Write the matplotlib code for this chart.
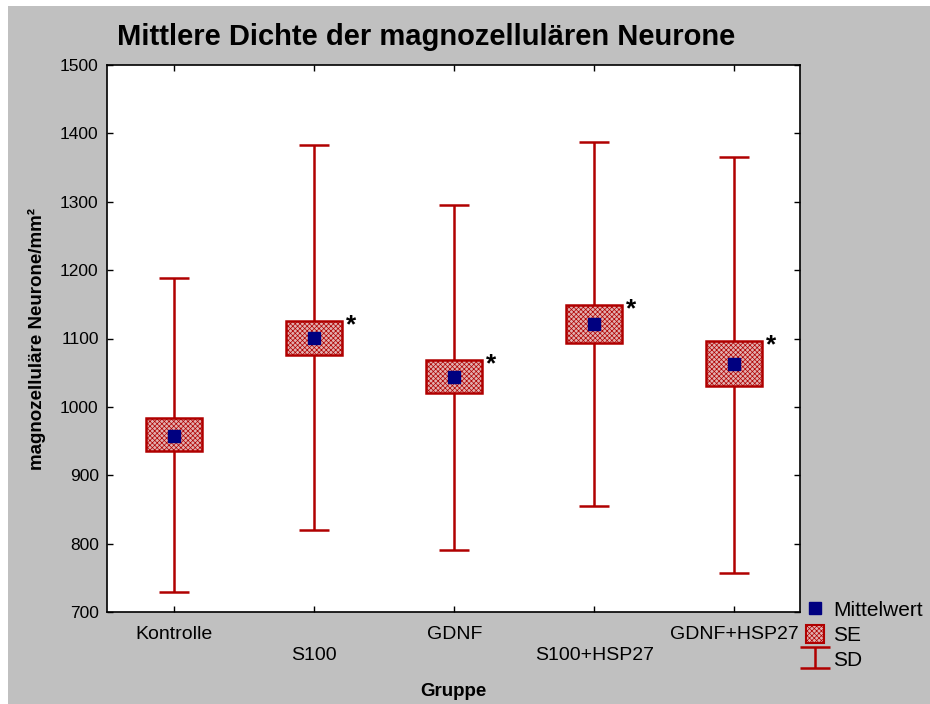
import matplotlib
matplotlib.use("Agg")
import matplotlib.pyplot as plt
import matplotlib.patches as mpatches
from matplotlib.lines import Line2D
import numpy as np

plt.rcParams["font.family"] = ["Liberation Sans", "DejaVu Sans"]
plt.rcParams["hatch.color"] = "#cc7474"
plt.rcParams["hatch.linewidth"] = 0.5

groups = ["Kontrolle", "S100", "GDNF", "S100+HSP27", "GDNF+HSP27"]
means = [958, 1101, 1043, 1121, 1062]
se_low = [935, 1076, 1020, 1093, 1030]
se_high = [983, 1126, 1068, 1149, 1096]
sd_low = [729, 820, 790, 855, 757]
sd_high = [1189, 1383, 1295, 1387, 1365]
significant = [False, True, True, True, True]

red = "#b00000"
navy = "#000080"
box_face = "#e2b0b0"

fig = plt.figure(figsize=(9.3, 7.04), dpi=100, facecolor="white")
fig.patches.append(mpatches.Rectangle((8 / 930, 0), 1, 1 - 6 / 704,
                                      transform=fig.transFigure,
                                      facecolor="#c0c0c0", edgecolor="none", zorder=-10))

ax = fig.add_axes([107 / 930, 92 / 704, 693 / 930, 547 / 704])
ax.set_facecolor("white")

x = np.arange(len(groups))
means = np.array(means)
sd_low = np.array(sd_low)
sd_high = np.array(sd_high)

sd = ax.errorbar(x, means, yerr=[means - sd_low, sd_high - means], fmt="none",
                 ecolor=red, elinewidth=1.8, capsize=10.5, capthick=1.8, zorder=2)

box_w = 0.4
for i in range(len(groups)):
    r = mpatches.Rectangle((x[i] - box_w / 2, se_low[i]), box_w, se_high[i] - se_low[i],
                           facecolor=box_face, edgecolor=red, linewidth=1.8,
                           hatch="xxxxxxx", zorder=3)
    ax.add_patch(r)
    if significant[i]:
        ax.text(x[i] + box_w / 2 + 0.025, se_high[i] - 6, "*", fontsize=19,
                fontweight="bold", ha="left", va="center", zorder=4)

ax.plot(x, means, "s", color=navy, markersize=8.5, zorder=4)

ax.set_xlim(-0.48, 4.47)
ax.set_ylim(700, 1500)
ax.set_yticks(range(700, 1501, 100))
ax.set_xticks(x)
ax.set_xticklabels([g if i % 2 == 0 else "\n" + g for i, g in enumerate(groups)],
                   fontsize=14, linespacing=1.3)
ax.tick_params(axis="y", labelsize=12.5, pad=6)
ax.tick_params(axis="x", pad=10)
ax.tick_params(direction="in", top=True, right=True, length=4, width=1)
for s in ax.spines.values():
    s.set_linewidth(1.2)

ax.set_xlabel("Gruppe", fontsize=13.5, fontweight="bold", labelpad=14)
ax.set_ylabel("magnozelluläre Neurone/mm²", fontsize=13.5, fontweight="bold", labelpad=10)
fig.text(426 / 930, 1 - 37 / 704, "Mittlere Dichte der magnozellulären Neurone",
         fontsize=21, fontweight="bold", ha="center", va="center")

handles = [
    Line2D([], [], marker="s", color=navy, linestyle="none", markersize=9),
    mpatches.Patch(facecolor=box_face, edgecolor=red, hatch="xxxxxxx", linewidth=1.5),
    sd,
]
fig.legend(handles, ["Mittelwert", "SE", "SD"], loc="upper left",
           bbox_to_anchor=(806 / 930, 1 - 600 / 704), frameon=False, fontsize=15,
           handlelength=0.85, handleheight=1.0, handletextpad=0.45, labelspacing=0.2,
           borderpad=0.0, borderaxespad=0.0)

fig.savefig("out.png", dpi=100, facecolor=fig.get_facecolor())
